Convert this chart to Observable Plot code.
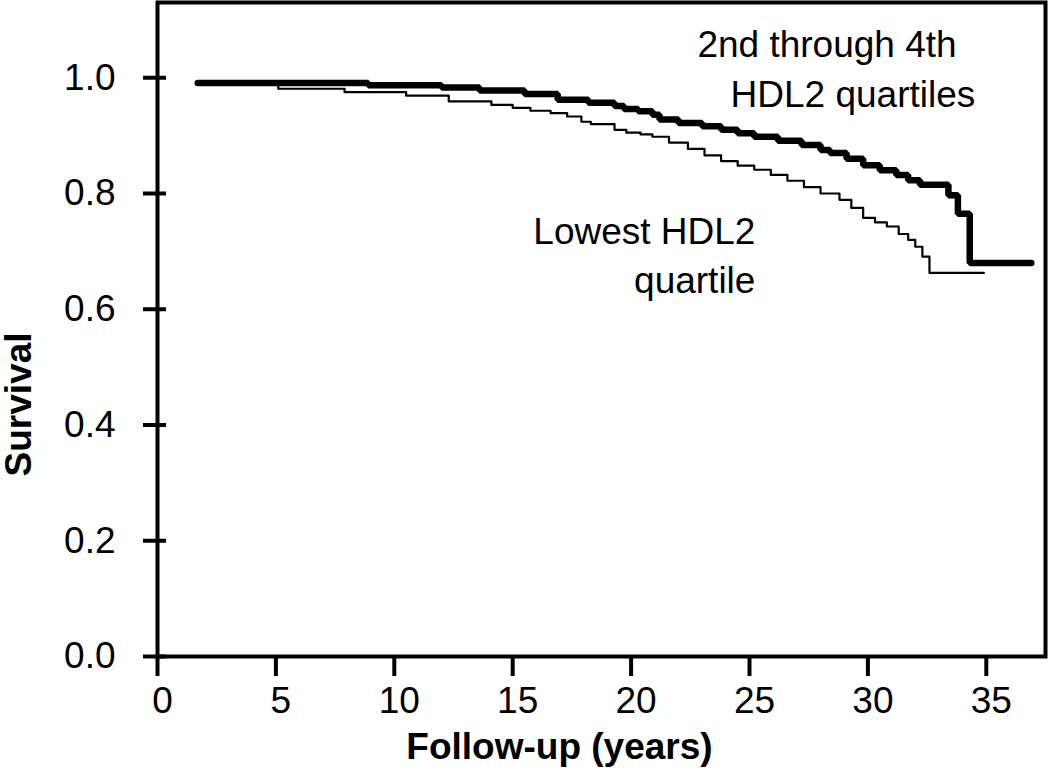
<!DOCTYPE html>
<html>
<head>
<meta charset="utf-8">
<script src="https://cdn.jsdelivr.net/npm/d3@7"></script>
<script src="https://cdn.jsdelivr.net/npm/@observablehq/plot@0.6"></script>
<style>
  html, body { margin: 0; padding: 0; background: #fff; }
  #chart svg { display: block; }
</style>
</head>
<body>
<div id="chart"></div>
<script>
// Follow-up time (years) and survival (step curves)
const upperYears = [1.7, 8.9, 12.0, 13.6, 15.5, 16.9, 18.2, 19.3, 19.7, 20.3, 20.9, 21.2, 22.0, 23.0, 23.8, 24.5, 25.2, 26.2, 27.2, 28.0, 28.4, 29.1, 29.8, 30.5, 31.2, 31.7, 32.2, 33.4, 33.8, 34.3, 36.9];
const upperSurv  = [0.991, 0.987, 0.983, 0.978, 0.972, 0.962, 0.957, 0.951, 0.946, 0.942, 0.936, 0.928, 0.922, 0.916, 0.910, 0.904, 0.898, 0.891, 0.884, 0.875, 0.870, 0.860, 0.849, 0.840, 0.832, 0.823, 0.815, 0.797, 0.765, 0.680, 0.680];

const lowestYears = [1.7, 5.1, 7.9, 10.5, 12.3, 14.1, 15.0, 15.75, 16.6, 17.3, 17.9, 18.3, 19.3, 19.8, 20.4, 20.9, 21.6, 22.4, 23.1, 23.8, 24.5, 25.2, 25.9, 26.6, 27.3, 28.0, 28.8, 29.3, 29.8, 30.3, 30.8, 31.3, 31.7, 32.0, 32.3, 32.6, 34.9];
const lowestSurv  = [0.991, 0.981, 0.975, 0.969, 0.959, 0.953, 0.948, 0.943, 0.939, 0.933, 0.924, 0.920, 0.910, 0.905, 0.902, 0.898, 0.888, 0.877, 0.866, 0.856, 0.848, 0.841, 0.832, 0.822, 0.811, 0.800, 0.789, 0.775, 0.758, 0.750, 0.743, 0.730, 0.720, 0.708, 0.691, 0.663, 0.663];

const xTicks = [0, 5, 10, 15, 20, 25, 30, 35];
const yTicks = [0, 0.2, 0.4, 0.6, 0.8, 1.0];

const xLabel = "Follow-up (years)";
const yLabel = "Survival";

// annotation labels: text and anchor in data units
const annoText   = ["2nd through 4th", "HDL2 quartiles", "Lowest HDL2", "quartile"];
const annoX      = [22.8, 24.2, 25.25, 25.25];
const annoY      = [1.036, 0.950, 0.713, 0.628];
const annoAnchor = ["start", "start", "end", "end"];

const upper = upperYears.map((t, i) => ({t, s: upperSurv[i]}));
const lowest = lowestYears.map((t, i) => ({t, s: lowestSurv[i]}));
const annos = annoText.map((text, i) => ({text, x: annoX[i], y: annoY[i], anchor: annoAnchor[i]}));

const font = "'Liberation Sans', Arial, Helvetica, sans-serif";
const FS = 37;

const chart = Plot.plot({
  width: 1050,
  height: 773,
  marginLeft: 157,
  marginRight: 5,
  marginTop: 2,
  marginBottom: 117,
  x: {domain: [0, 37.5]},
  y: {domain: [0, 1.13]},
  style: {fontFamily: font, background: "#fff", color: "#000"},
  marks: [
    // x ticks (marks only) and their labels, slightly right of the ticks as in the source
    Plot.axisX({ticks: xTicks, tickSize: 20, strokeWidth: 4, tickFormat: () => "", label: null}),
    Plot.axisX({ticks: xTicks, tickSize: 0, tickPadding: 30, dx: 5, fontSize: FS, tickFormat: d => String(d), label: null}),
    Plot.axisY({ticks: yTicks, tickSize: 23, dx: 9, tickPadding: 28, strokeWidth: 4, fontSize: FS, tickFormat: d3.format(".1f"), label: null}),
    Plot.frame({stroke: "#000", strokeWidth: 4}),
    Plot.line(lowest, {x: "t", y: "s", curve: "step-after", stroke: "#000", strokeWidth: 2.2}),
    Plot.line(upper, {x: "t", y: "s", curve: "step-after", stroke: "#000", strokeWidth: 6.5, strokeLinecap: "round", strokeLinejoin: "miter"}),
    Plot.text(annos.filter(d => d.anchor === "start"), {x: "x", y: "y", text: "text", textAnchor: "start", lineAnchor: "bottom", fontSize: FS, fill: "#000"}),
    Plot.text(annos.filter(d => d.anchor === "end"), {x: "x", y: "y", text: "text", textAnchor: "end", lineAnchor: "bottom", fontSize: FS, fill: "#000"}),
    Plot.text([yLabel], {frameAnchor: "left", dx: -138, dy: 75, rotate: -90, textAnchor: "middle", lineAnchor: "middle", fontSize: FS, fontWeight: "bold", fill: "#000"}),
    Plot.text([xLabel], {frameAnchor: "bottom", dx: -42, dy: 102, textAnchor: "middle", lineAnchor: "bottom", fontSize: FS, fontWeight: "bold", fill: "#000"})
  ]
});
document.getElementById("chart").appendChild(chart);
</script>
</body>
</html>
